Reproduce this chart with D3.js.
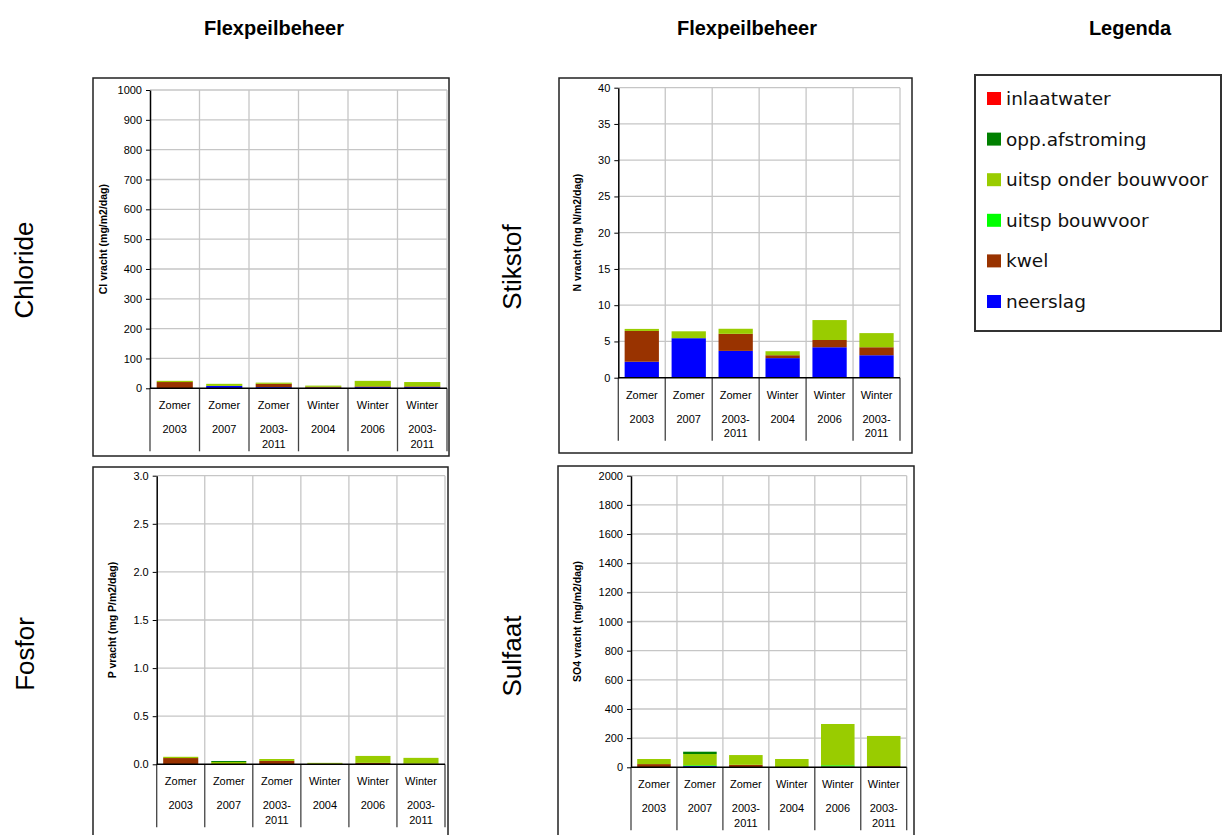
<!DOCTYPE html>
<html>
<head>
<meta charset="utf-8">
<script src="https://cdn.jsdelivr.net/npm/d3@7"></script>
<style>
  html, body { margin: 0; padding: 0; background: #fff; }
  svg { display: block; }
  svg text { font-family: "Liberation Sans", Arial, sans-serif; }
  svg text.legend-label { font-family: "DejaVu Sans", Verdana, sans-serif; }
</style>
</head>
<body>
<svg id="chart" width="1222" height="835"></svg>
<script>
// Categories: season and period (period may wrap over two lines)
const seasons = ["Zomer", "Zomer", "Zomer", "Winter", "Winter", "Winter"];
const periods = [["2003"], ["2007"], ["2003-", "2011"], ["2004"], ["2006"], ["2003-", "2011"]];

// Sources, stacked bottom to top
const sourceKeys = ["neerslag", "kwel", "uitsp bouwvoor", "uitsp onder bouwvoor", "opp.afstroming", "inlaatwater"];
const sourceColors = ["#0000ff", "#993300", "#00ff00", "#99cc00", "#008000", "#ff0000"];
// Legend lists them top to bottom
const legendKeys = ["inlaatwater", "opp.afstroming", "uitsp onder bouwvoor", "uitsp bouwvoor", "kwel", "neerslag"];

// Chloride (mg/m2/dag)
const clNeerslag      = [1, 8, 4, 2, 4, 4];
const clKwel          = [20, 0, 11, 3, 2.5, 2.5];
const clUitspBouwvoor = [0, 0, 0, 0, 0, 0];
const clUitspOnder    = [4, 7, 4, 4, 18.5, 14.5];
const clOpp           = [0, 0, 0, 0, 0, 0];
const clInlaat        = [0, 0, 0, 0, 0, 0];

// Stikstof (mg N/m2/dag)
const nNeerslag      = [2.2, 5.45, 3.7, 2.7, 4.2, 3.1];
const nKwel          = [4.25, 0, 2.35, 0.4, 1.0, 1.1];
const nUitspBouwvoor = [0, 0, 0, 0, 0, 0];
const nUitspOnder    = [0.28, 0.95, 0.7, 0.55, 2.75, 1.95];
const nOpp           = [0, 0, 0, 0, 0, 0];
const nInlaat        = [0, 0, 0, 0, 0, 0];

// Fosfor (mg P/m2/dag)
const pNeerslag      = [0, 0.002, 0, 0, 0, 0];
const pKwel          = [0.065, 0, 0.035, 0.005, 0.015, 0.007];
const pUitspBouwvoor = [0, 0, 0, 0, 0, 0];
const pUitspOnder    = [0.013, 0.022, 0.02, 0.01, 0.072, 0.06];
const pOpp           = [0, 0.01, 0, 0, 0, 0];
const pInlaat        = [0, 0, 0, 0, 0, 0];

// Sulfaat (mg/m2/dag)
const sNeerslag      = [0, 8, 0, 0, 0, 0];
const sKwel          = [22, 0, 17, 1, 6, 8];
const sUitspBouwvoor = [0, 6, 0, 0, 8, 0];
const sUitspOnder    = [35, 77, 67, 56, 283, 207];
const sOpp           = [0, 16, 0, 0, 0, 0];
const sInlaat        = [0, 0, 0, 0, 0, 0];

// Y tick values per panel
const clTicks = d3.range(0, 1001, 100);
const nTicks  = d3.range(0, 41, 5);
const pTicks  = [0, 0.5, 1.0, 1.5, 2.0, 2.5, 3.0];
const sTicks  = d3.range(0, 2001, 200);

function rows(series) {
  return seasons.map((s, i) => {
    const r = { idx: i };
    sourceKeys.forEach((k, j) => r[k] = series[j][i]);
    return r;
  });
}

const panels = [
  { name: "Chloride", ytitle: "Cl vracht (mg/m2/dag)", ticks: clTicks, fmt: d3.format("d"),
    series: [clNeerslag, clKwel, clUitspBouwvoor, clUitspOnder, clOpp, clInlaat],
    frame: [93, 78, 449, 456], plot: [150, 90, 447, 388.3], titleX: 103, rowX: 33, rowY: 270 },
  { name: "Stikstof", ytitle: "N vracht (mg N/m2/dag)", ticks: nTicks, fmt: d3.format("d"),
    series: [nNeerslag, nKwel, nUitspBouwvoor, nUitspOnder, nOpp, nInlaat],
    frame: [559, 78, 912, 453], plot: [618.3, 87.7, 900, 377.7], titleX: 577, rowX: 521, rowY: 267 },
  { name: "Fosfor", ytitle: "P vracht (mg P/m2/dag)", ticks: pTicks, fmt: d3.format(".1f"),
    series: [pNeerslag, pKwel, pUitspBouwvoor, pUitspOnder, pOpp, pInlaat],
    frame: [93, 467, 448, 850], plot: [156.7, 475.7, 445, 764.3], titleX: 112, rowX: 34, rowY: 654 },
  { name: "Sulfaat", ytitle: "SO4 vracht (mg/m2/dag)", ticks: sTicks, fmt: d3.format("d"),
    series: [sNeerslag, sKwel, sUitspBouwvoor, sUitspOnder, sOpp, sInlaat],
    frame: [558, 466, 914, 850], plot: [631, 475.7, 906.7, 767.3], titleX: 577, rowX: 521, rowY: 656 }
];

const svg = d3.select("#chart");
svg.append("rect").attr("width", 1222).attr("height", 835).attr("fill", "#fff");

// Column headers
[["Flexpeilbeheer", 274], ["Flexpeilbeheer", 747], ["Legenda", 1130]].forEach(([t, x]) => {
  svg.append("text").attr("x", x).attr("y", 35).attr("text-anchor", "middle")
    .attr("font-size", 20).attr("font-weight", "bold").attr("fill", "#000").text(t);
});

const stack = d3.stack().keys(sourceKeys);

panels.forEach(p => {
  const [fx0, fy0, fx1, fy1] = p.frame;
  const [left, top, right, bottom] = p.plot;
  const g = svg.append("g");

  // Row label
  g.append("text")
    .attr("transform", `translate(${p.rowX},${p.rowY}) rotate(-90)`)
    .attr("text-anchor", "middle").attr("font-size", 26).attr("fill", "#000")
    .text(p.name);

  // Frame
  g.append("rect").attr("x", fx0).attr("y", fy0)
    .attr("width", fx1 - fx0).attr("height", fy1 - fy0)
    .attr("fill", "#fff").attr("stroke", "#222").attr("stroke-width", 1.5);

  const x = d3.scaleBand().domain(d3.range(seasons.length))
    .range([left, right]).paddingInner(0.27).paddingOuter(0.135);
  const y = d3.scaleLinear().domain([0, p.ticks[p.ticks.length - 1]]).range([bottom, top]);
  const step = x.step();

  // Horizontal gridlines
  g.append("g").selectAll("line").data(p.ticks.slice(1)).join("line")
    .attr("x1", left).attr("x2", right)
    .attr("y1", d => y(d)).attr("y2", d => y(d))
    .attr("stroke", "#c6c6c6").attr("stroke-width", 1.3);

  // Vertical gridlines at category boundaries
  g.append("g").selectAll("line").data(d3.range(1, seasons.length + 1)).join("line")
    .attr("x1", i => left + i * step).attr("x2", i => left + i * step)
    .attr("y1", top).attr("y2", bottom)
    .attr("stroke", "#c6c6c6").attr("stroke-width", 1.3);

  // Stacked bars
  const stacked = stack(rows(p.series));
  g.append("g").selectAll("g").data(stacked).join("g")
    .attr("fill", (d, i) => sourceColors[i])
    .selectAll("rect").data(d => d).join("rect")
    .attr("x", d => x(d.data.idx))
    .attr("width", x.bandwidth())
    .attr("y", d => y(d[1]))
    .attr("height", d => Math.max(0, y(d[0]) - y(d[1])));

  // Category separators below the axis
  g.append("g").selectAll("line").data(d3.range(0, seasons.length + 1)).join("line")
    .attr("x1", i => left + i * step).attr("x2", i => left + i * step)
    .attr("y1", bottom).attr("y2", bottom + 63)
    .attr("stroke", "#444").attr("stroke-width", 1.3);

  // Category labels
  const cat = g.append("g").attr("font-size", 11).attr("fill", "#000").attr("text-anchor", "middle");
  seasons.forEach((s, i) => {
    const cx = x(i) + x.bandwidth() / 2;
    cat.append("text").attr("x", cx).attr("y", bottom + 21).text(s);
    periods[i].forEach((line, k) => {
      cat.append("text").attr("x", cx).attr("y", bottom + 45 + k * 14.5).text(line);
    });
  });

  // X axis line
  g.append("line").attr("x1", left).attr("x2", right)
    .attr("y1", bottom).attr("y2", bottom)
    .attr("stroke", "#000").attr("stroke-width", 1.5);

  // Y axis
  const ya = g.append("g").attr("transform", `translate(${left},0)`)
    .call(d3.axisLeft(y).tickValues(p.ticks).tickFormat(p.fmt).tickSize(4).tickPadding(4).tickSizeOuter(0));
  ya.select(".domain").attr("stroke", "#000").attr("stroke-width", 1.5);
  ya.selectAll(".tick line").attr("stroke", "#000");
  ya.selectAll(".tick text").attr("font-size", 11).attr("fill", "#000");

  // Y axis title
  g.append("text")
    .attr("transform", `translate(${p.titleX},${(top + bottom) / 2}) rotate(-90)`)
    .attr("text-anchor", "middle").attr("dominant-baseline", "central")
    .attr("font-size", 10.5).attr("font-weight", "bold").attr("fill", "#000")
    .text(p.ytitle);
});

// Legend
const lg = svg.append("g");
lg.append("rect").attr("x", 975).attr("y", 75).attr("width", 246).attr("height", 256)
  .attr("fill", "#fff").attr("stroke", "#333").attr("stroke-width", 2);
legendKeys.forEach((k, i) => {
  const by = 105 + i * 40.6;
  const color = sourceColors[sourceKeys.indexOf(k)];
  lg.append("rect").attr("x", 987).attr("y", by - 13).attr("width", 14).attr("height", 13)
    .attr("fill", color);
  lg.append("text").attr("class", "legend-label").attr("x", 1006).attr("y", by)
    .attr("font-size", 18.5).attr("fill", "#111").text(k);
});
</script>
</body>
</html>
